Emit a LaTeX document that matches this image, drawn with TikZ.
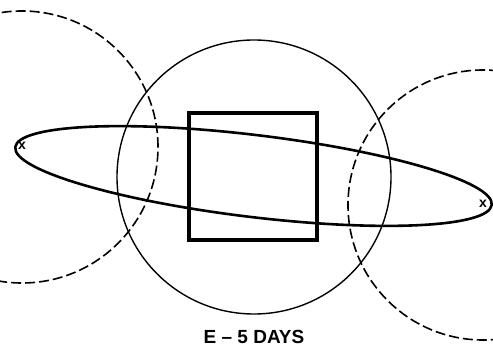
\documentclass[tikz,border=0pt]{standalone}
\usepackage{fontspec}
\setmainfont{Liberation Sans}
\usetikzlibrary{positioning,calc}

\begin{document}
\begin{tikzpicture}[x=1pt,y=1pt,
    reachring/.style={line width=1.6pt,dash pattern=on 10pt off 4pt},
    orbitline/.style={line width=2.6pt},
    xmark/.style={font=\fontsize{14}{14}\selectfont\bfseries,inner sep=0pt}]
    \useasboundingbox (0,0) rectangle (493,348);
    \clip (0,0) rectangle (493,348);
    \coordinate (earth) at (254,171);
    \coordinate (mid) at (253.5,172);
    % stations at the two ends of the orbit
    \node[xmark] (west) at (22,202) {x};
    \node[xmark] (east) at (483,144) {x};
    \draw[line width=1.4pt] (earth) circle[radius=137];
    \draw[reachring] (22,201) circle[radius=136];
    \draw[reachring] (483,143) circle[radius=135];
    \draw[orbitline,rotate around={-6.9:(mid)}] (mid) ellipse[x radius=240,y radius=41];
    \draw[line width=4.8pt] (189,108) rectangle (317,235);
    \node[font=\fontsize{19}{21}\selectfont\bfseries] (cap) at (254,11) {E -- 5 DAYS};
  \end{tikzpicture}
\end{document}
